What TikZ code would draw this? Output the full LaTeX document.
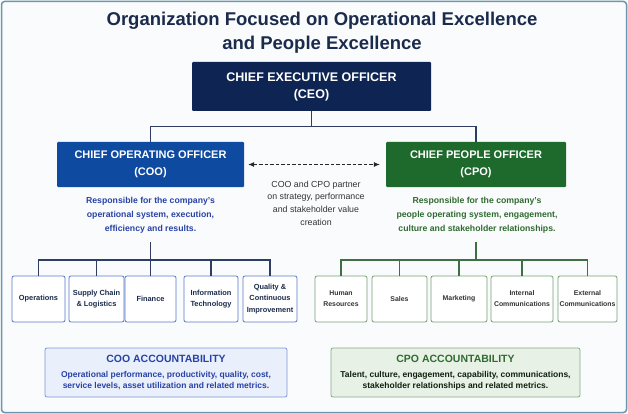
\documentclass[tikz,border=0pt]{standalone}
\usepackage{fontspec}
\setmainfont{Liberation Sans}
\usetikzlibrary{arrows.meta}

\definecolor{framecol}{HTML}{6A97AD}
\definecolor{paper}{HTML}{FAFBFC}
\definecolor{titlecol}{HTML}{1B2B4B}
\definecolor{ceofill}{HTML}{0E2452}
\definecolor{coofill}{HTML}{0D4AA0}
\definecolor{cpofill}{HTML}{1E6A2C}
\definecolor{cooline}{HTML}{2F3D62}
\definecolor{cpoline}{HTML}{3F6F42}
\definecolor{cootext}{HTML}{2842A6}
\definecolor{cpotext}{HTML}{2F6B30}
\definecolor{coounit}{HTML}{5A79C8}
\definecolor{cpounit}{HTML}{79A079}
\definecolor{cooaccfill}{HTML}{E9EFFB}
\definecolor{cooaccline}{HTML}{7D97D6}
\definecolor{cpoaccfill}{HTML}{E8F1E6}
\definecolor{cpoaccline}{HTML}{8AAA88}

\begin{document}
\begin{tikzpicture}[x=1pt,y=-1pt,
  officer/.style={rounded corners=1pt,text=white,align=center,inner sep=0pt,
    font=\fontsize{11}{17}\selectfont\bfseries},
  cooside/.style={draw=cooline,line width=1.1pt},
  cposide/.style={draw=cpoline,line width=1.1pt},
  unit/.style={draw,fill=white,rounded corners=2pt,line width=0.8pt,align=center,
    minimum height=46pt,inner sep=0pt},
  coounitbox/.style={unit,draw=coounit,text=titlecol,font=\fontsize{7.4}{11.5}\selectfont\bfseries},
  cpounitbox/.style={unit,draw=cpounit,text=black!80,font=\fontsize{6.9}{11}\selectfont\bfseries},
  remit/.style={align=center,font=\fontsize{8.7}{14}\selectfont\bfseries},
  accbox/.style={rounded corners=2pt,line width=0.8pt,align=center,minimum height=49pt,
    inner sep=0pt,font=\fontsize{8.5}{11}\selectfont\bfseries}]
\useasboundingbox (0,0) rectangle (628,414);
\fill[paper] (0,0) rectangle (628,414);
\draw[framecol,line width=1.5pt,rounded corners=3pt] (1.5,1.5) rectangle (626.5,412.5);

\node[align=center,text=titlecol,font=\fontsize{18.5}{23.5}\selectfont\bfseries] (title) at (322,32.5)
  {Organization Focused on Operational Excellence\\and People Excellence};

\node[officer,fill=ceofill,minimum width=239pt,minimum height=49pt,
  font=\fontsize{12.5}{17}\selectfont\bfseries] (ceo) at (311.5,86.5)
  {CHIEF EXECUTIVE OFFICER\\(CEO)};
\node[officer,fill=coofill,minimum width=187pt,minimum height=45pt] (coo) at (150.5,164.5)
  {CHIEF OPERATING OFFICER\\(COO)};
\node[officer,fill=cpofill,minimum width=180pt,minimum height=45pt] (cpo) at (476,164.5)
  {CHIEF PEOPLE OFFICER\\(CPO)};

\draw[cooside] (ceo.south) -- ++(0,15) -| (coo.north);
\draw[cooside] (ceo.south) -- ++(0,15) -| (cpo.north);

\draw[black!85,line width=0.8pt,dash pattern=on 3.5pt off 2pt,
  {Latex[length=6pt,width=5pt]}-{Latex[length=6pt,width=5pt]},
  shorten <=4pt,shorten >=6pt] (coo.east) -- (cpo.west);
\node[align=center,text=black!80,font=\fontsize{8.8}{12.7}\selectfont] (partner) at (316,203)
  {COO and CPO partner\\on strategy, performance\\and stakeholder value\\creation};

\node[remit,text=cootext] (cooremit) at (150.5,215)
  {Responsible for the company's\\operational system, execution,\\efficiency and results.};
\node[remit,text=cpotext] (cporemit) at (477,215)
  {Responsible for the company's\\people operating system, engagement,\\culture and stakeholder relationships.};

\coordinate (coojoin) at (150.5,242);
\coordinate (cpojoin) at (476,242);

\node[coounitbox,minimum width=53pt] (ops) at (38.5,299) {Operations};
\node[coounitbox,minimum width=55pt] (supply) at (96.5,299) {Supply Chain\\\& Logistics};
\node[coounitbox,minimum width=51pt] (finance) at (150.5,299) {Finance};
\node[coounitbox,minimum width=54pt] (infotech) at (211,299) {Information\\Technology};
\node[coounitbox,minimum width=54pt] (quality) at (270,299) {Quality \&\\Continuous\\Improvement};

\node[cpounitbox,minimum width=52pt] (hr) at (341,299) {Human\\Resources};
\node[cpounitbox,minimum width=55pt] (sales) at (399.5,299) {Sales};
\node[cpounitbox,minimum width=56pt] (marketing) at (459,299) {Marketing};
\node[cpounitbox,minimum width=62pt] (internal) at (522,299) {Internal\\Communications};
\node[cpounitbox,minimum width=59pt] (external) at (587.5,299) {External\\Communications};

\draw[cooside] (coojoin) -- ++(0,18) -| (ops.north);
\draw[cooside] (coojoin) -- ++(0,18) -| (supply.north);
\draw[cooside] (coojoin) -- (finance.north);
\draw[cooside] (coojoin) -- ++(0,18) -| (infotech.north);
\draw[cooside] (coojoin) -- ++(0,18) -| (quality.north);

\draw[cposide] (cpojoin) -- ++(0,18) -| (hr.north);
\draw[cposide] (cpojoin) -- ++(0,18) -| (sales.north);
\draw[cposide] (cpojoin) -- ++(0,18) -| (marketing.north);
\draw[cposide] (cpojoin) -- ++(0,18) -| (internal.north);
\draw[cposide] (cpojoin) -- ++(0,18) -| (external.north);

\node[accbox,draw=cooaccline,fill=cooaccfill,text=cootext,minimum width=242pt] (cooacc) at (166,372.5)
  {{\fontsize{10.5}{12}\selectfont COO ACCOUNTABILITY}\\[3.5pt]
   Operational performance, productivity, quality, cost,\\
   service levels, asset utilization and related metrics.};
\node[accbox,draw=cpoaccline,fill=cpoaccfill,text=black!70!cpotext,minimum width=249pt] (cpoacc) at (455.5,372.5)
  {{\fontsize{10.5}{12}\selectfont\color{cpotext}CPO ACCOUNTABILITY}\\[3.5pt]
   Talent, culture, engagement, capability, communications,\\
   stakeholder relationships and related metrics.};
\end{tikzpicture}
\end{document}
